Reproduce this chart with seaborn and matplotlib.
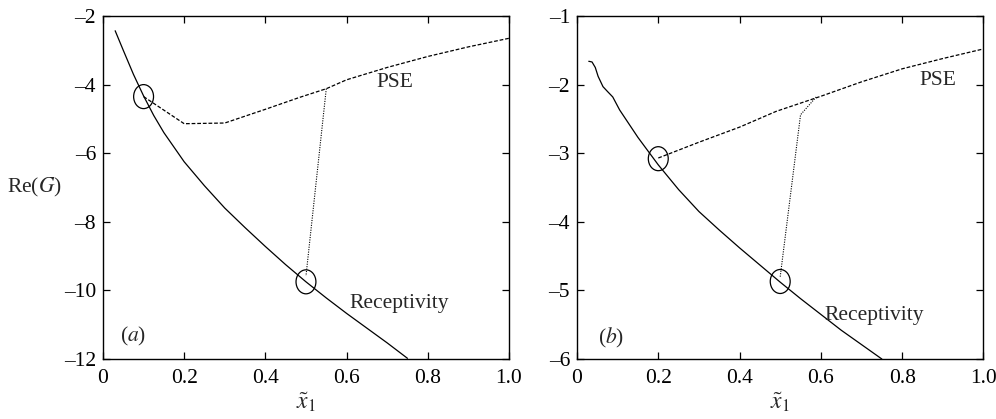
import numpy as np
import pandas as pd
import seaborn as sns
import matplotlib.pyplot as plt
from matplotlib.patches import Ellipse

# panel (a)
rec_a_x = [0.03, 0.05, 0.075, 0.1, 0.125, 0.15, 0.2, 0.25, 0.3, 0.35, 0.4, 0.45, 0.5, 0.55, 0.6, 0.65, 0.7, 0.75]
rec_a_y = [-2.43, -3.0, -3.7, -4.33, -4.9, -5.4, -6.25, -6.95, -7.6, -8.17, -8.72, -9.25, -9.75, -10.22, -10.67, -11.1, -11.53, -11.98]
pse_a_x = [0.1, 0.2, 0.3, 0.4, 0.485, 0.55, 0.6, 0.7, 0.8, 0.9, 1.0]
pse_a_y = [-4.35, -5.14, -5.12, -4.72, -4.37, -4.12, -3.86, -3.5, -3.18, -2.9, -2.65]
dot_a_x = [0.55, 0.5]
dot_a_y = [-4.12, -9.58]
circ_a_x = [0.1, 0.5]
circ_a_y = [-4.35, -9.75]

# panel (b)
rec_b_x = [0.029, 0.037, 0.045, 0.052, 0.064, 0.075, 0.088, 0.105, 0.15, 0.2, 0.25, 0.3, 0.35, 0.4, 0.45, 0.5, 0.55, 0.6, 0.65, 0.7, 0.75]
rec_b_y = [-1.66, -1.67, -1.75, -1.88, -2.03, -2.1, -2.18, -2.37, -2.77, -3.17, -3.53, -3.85, -4.12, -4.38, -4.63, -4.88, -5.12, -5.35, -5.58, -5.79, -6.0]
pse_b_x = [0.2, 0.3, 0.4, 0.49, 0.6, 0.7, 0.8, 0.9, 1.0]
pse_b_y = [-3.07, -2.84, -2.62, -2.39, -2.17, -1.96, -1.77, -1.62, -1.48]
dot_b_x = [0.5, 0.55, 0.59]
dot_b_y = [-4.8, -2.44, -2.17]
circ_b_x = [0.2, 0.5]
circ_b_y = [-3.08, -4.87]

sns.set_style("ticks")
plt.rcParams['font.family'] = ['Liberation Serif', 'DejaVu Serif']
plt.rcParams['mathtext.fontset'] = 'stix'

fig = plt.figure(figsize=(9.96, 4.19), dpi=100)
ax1 = fig.add_axes([0.1034, 0.1432, 0.4076, 0.8186])
ax2 = fig.add_axes([0.5793, 0.1432, 0.4081, 0.8186])

panels = [
    (ax1, rec_a_x, rec_a_y, pse_a_x, pse_a_y, dot_a_x, dot_a_y, circ_a_x, circ_a_y,
     (-12, -2), np.arange(-12, -1, 2), (0.72, -3.95), (0.73, -10.37), (0.074, -11.35), "a"),
    (ax2, rec_b_x, rec_b_y, pse_b_x, pse_b_y, dot_b_x, dot_b_y, circ_b_x, circ_b_y,
     (-6, -1), np.arange(-6, 0, 1), (0.888, -1.94), (0.731, -5.37), (0.084, -5.7), "b"),
]

fs = 15.5
for ax, rx, ry, px, py, dx, dy, cx, cy, ylim, yticks, pse_pos, rec_pos, lab_pos, lab in panels:
    sns.lineplot(x=rx, y=ry, ax=ax, color="black", lw=0.9, sort=False, estimator=None)
    sns.lineplot(x=px, y=py, ax=ax, color="black", lw=0.9, sort=False, estimator=None,
                 linestyle=(0, (3, 1.5)))
    sns.lineplot(x=dx, y=dy, ax=ax, color="black", lw=0.8, sort=False, estimator=None,
                 linestyle=(0, (1, 1.2)))
    span = ylim[1] - ylim[0]
    for x0, y0 in zip(cx, cy):
        ax.add_patch(Ellipse((x0, y0), 0.049, span * 24 / 343, fill=False, lw=0.9, color="black"))
    ax.set_xlim(0, 1)
    ax.set_ylim(*ylim)
    ax.set_xticks([0, 0.2, 0.4, 0.6, 0.8, 1.0])
    ax.set_xticklabels(["0", "0.2", "0.4", "0.6", "0.8", "1.0"])
    ax.set_yticks(yticks)
    ax.set_yticklabels([f"\u2013{abs(v)}" for v in yticks])
    ax.tick_params(direction="in", length=5, width=0.9, top=True, right=True,
                   labelsize=fs, colors="black")
    ax.tick_params(axis="x", pad=7)
    ax.tick_params(axis="y", pad=5)
    for s in ax.spines.values():
        s.set_linewidth(1.0)
        s.set_color("black")
    ax.text(*pse_pos, "PSE", fontsize=fs, ha="center", va="center")
    ax.text(*rec_pos, "Receptivity", fontsize=fs, ha="center", va="center")
    ax.text(*lab_pos, "($" + lab + "$)", fontsize=fs, ha="center", va="center")
    ax.set_xlabel(r"$\tilde{x}_1$", fontsize=17, labelpad=2)

ax1.set_ylabel(r"Re($G$)", fontsize=fs, rotation=0, labelpad=21, va="center")

fig.savefig("out.png", dpi=100)
